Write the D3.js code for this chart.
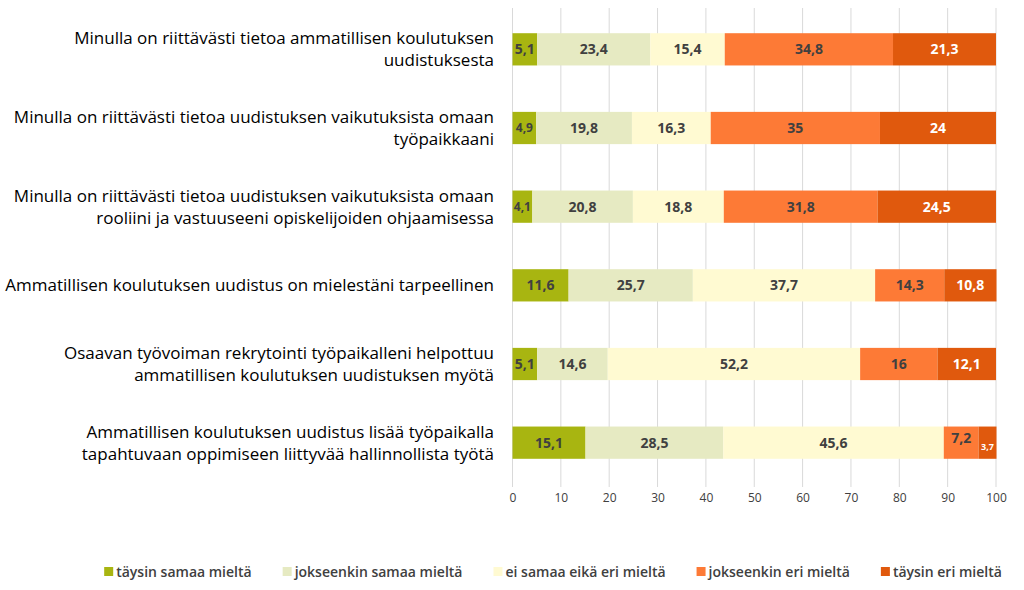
<!DOCTYPE html>
<html><head><meta charset="utf-8">
<script src="https://cdn.jsdelivr.net/npm/d3@7"></script>
<style>body{margin:0;background:#fff}svg{display:block}</style>
</head><body>
<svg id="c" width="1024" height="590"></svg>
<script>
const categories = [
  ["Minulla on riittävästi tietoa ammatillisen koulutuksen", "uudistuksesta"],
  ["Minulla on riittävästi tietoa uudistuksen vaikutuksista omaan", "työpaikkaani"],
  ["Minulla on riittävästi tietoa uudistuksen vaikutuksista omaan", "rooliini ja vastuuseeni opiskelijoiden ohjaamisessa"],
  ["Ammatillisen koulutuksen uudistus on mielestäni tarpeellinen"],
  ["Osaavan työvoiman rekrytointi työpaikalleni helpottuu", "ammatillisen koulutuksen uudistuksen myötä"],
  ["Ammatillisen koulutuksen uudistus lisää työpaikalla", "tapahtuvaan oppimiseen liittyvää hallinnollista työtä"]
];
const seriesNames = ["täysin samaa mieltä","jokseenkin samaa mieltä","ei samaa eikä eri mieltä","jokseenkin eri mieltä","täysin eri mieltä"];
const taysinSamaa = [5.1, 4.9, 4.1, 11.6, 5.1, 15.1];
const jokseenkinSamaa = [23.4, 19.8, 20.8, 25.7, 14.6, 28.5];
const eiSamaaEikaEri = [15.4, 16.3, 18.8, 37.7, 52.2, 45.6];
const jokseenkinEri = [34.8, 35, 31.8, 14.3, 16, 7.2];
const taysinEri = [21.3, 24, 24.5, 10.8, 12.1, 3.7];
const xTicks = [0,10,20,30,40,50,60,70,80,90,100];

const colors = ["#a8b511","#e6eac2","#fffad2","#fd7a36","#e0590d"];
const labelColors = ["#404040","#404040","#404040","#404040","#ffffff"];
const seriesVals = [taysinSamaa, jokseenkinSamaa, eiSamaaEikaEri, jokseenkinEri, taysinEri];

const svg = d3.select("#c");
const font = "'Open Sans', 'Liberation Sans', Arial, sans-serif";
const x = d3.scaleLinear().domain([0,100]).range([512.5, 996]);
const y = d3.scaleBand().domain(d3.range(categories.length)).range([10, 482]).paddingInner(0.59).paddingOuter(0.295);

// grid
svg.append("g").selectAll("line").data(xTicks).join("line")
  .attr("x1", d=>x(d)).attr("x2", d=>x(d)).attr("y1", 8).attr("y2", 487)
  .attr("stroke", "#d9d9d9").attr("stroke-width", 1);

// axis
const ax = svg.append("g").attr("transform", "translate(0,487)")
  .call(d3.axisBottom(x).tickValues(xTicks).tickSize(0).tickPadding(6).tickFormat(d3.format("d")));
ax.select(".domain").remove();
ax.selectAll("text").attr("font-family", font).attr("font-size", 12).attr("fill", "#404040");

// stacked data
const rows = categories.map((c,i)=>{ const o={i}; seriesNames.forEach((s,k)=>o[s]=seriesVals[k][i]); return o; });
const stack = d3.stack().keys(seriesNames)(rows);

const fmt = v => String(v).replace(".", ",");
stack.forEach((layer,k)=>{
  const g = svg.append("g");
  g.selectAll("rect").data(layer).join("rect")
    .attr("x", d=>x(d[0])).attr("width", d=>x(d[1])-x(d[0]))
    .attr("y", (d,i)=>y(i)).attr("height", y.bandwidth())
    .attr("fill", colors[k]);
  g.selectAll("text").data(layer).join("text")
    .attr("x", d=>(x(d[0])+x(d[1]))/2)
    .attr("y", (d,i)=>{
      const v = d[1]-d[0];
      let cy = y(i)+y.bandwidth()/2;
      if (k===3 && v<8) cy -= 5;
      if (k===4 && v<5) cy += 4;
      return cy;
    })
    .attr("dy", "0.35em").attr("text-anchor", "middle")
    .attr("font-family", font).attr("font-weight", "bold")
    .attr("font-size", d=> (d[1]-d[0])<5 ? ((k===4)?9:12) : 14)
    .attr("fill", labelColors[k])
    .text(d=>fmt(+(d[1]-d[0]).toFixed(1)));
});

// category labels
categories.forEach((lines,i)=>{
  const cy = y(i)+y.bandwidth()/2;
  const lh = 22;
  const t = svg.append("text").attr("text-anchor","end")
    .attr("font-family", font).attr("font-size", 17).attr("fill","#000");
  lines.forEach((ln,j)=>{
    t.append("tspan").attr("x", 494)
      .attr("y", cy + (j-(lines.length-1)/2)*lh).attr("dy","0.35em").text(ln);
  });
});

// legend
const lg = svg.append("g");
let cx = 0;
seriesNames.forEach((s,k)=>{
  const g = lg.append("g").attr("transform", `translate(${cx},0)`);
  g.append("rect").attr("x",0).attr("y",-5).attr("width",9).attr("height",9).attr("fill",colors[k]);
  const t = g.append("text").attr("x",12).attr("y",0).attr("dy","0.35em")
    .attr("font-family", font).attr("font-size", 14).attr("font-weight","600").attr("fill","#404040").text(s);
  cx += 12 + t.node().getComputedTextLength() + 31;
});
const total = cx - 31;
lg.attr("transform", `translate(${553 - total/2},572)`);
</script>
</body></html>
